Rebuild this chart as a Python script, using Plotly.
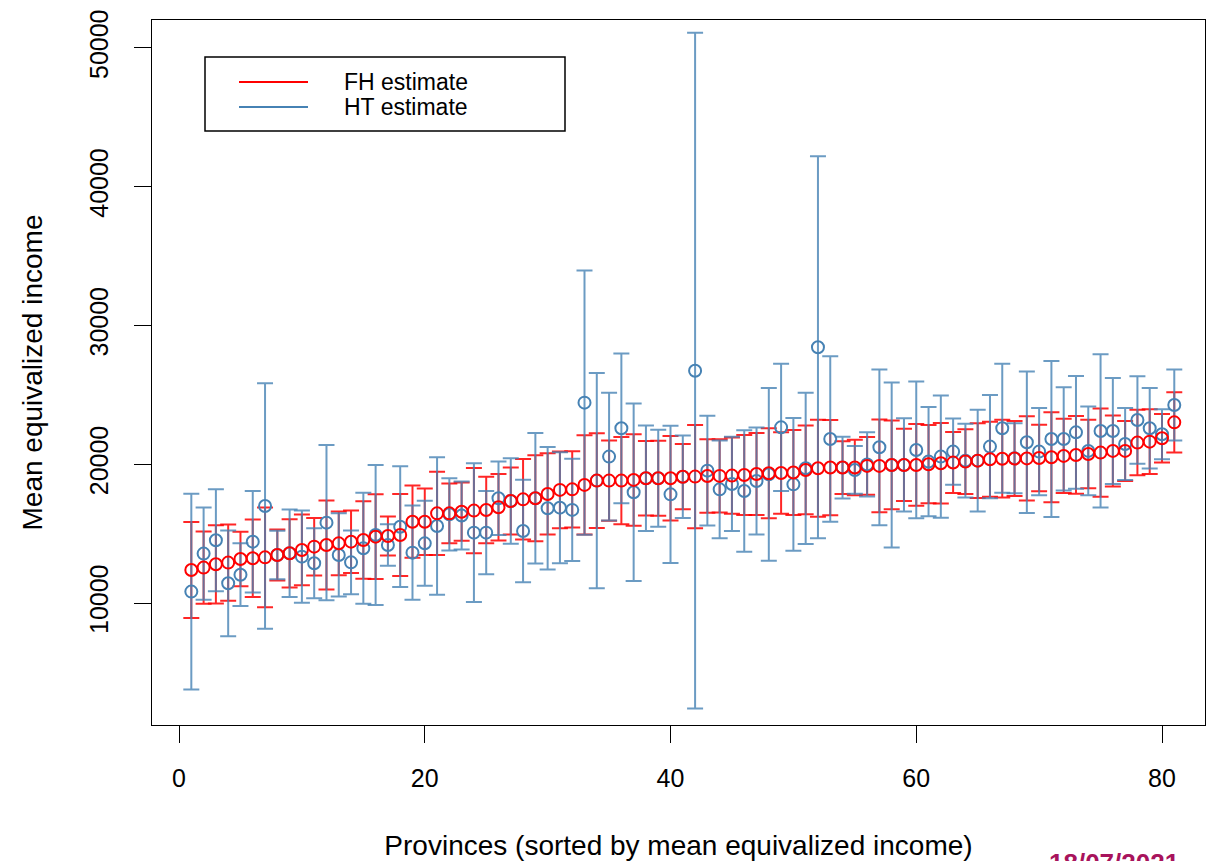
import plotly.graph_objects as go

# ---- data ----
province = list(range(1, 82))

fh_est = [12380, 12550, 12790, 12910, 13170, 13220, 13290, 13460, 13580, 13820,
          14060, 14180, 14300, 14420, 14540, 14780, 14830, 14900, 15860, 15860,
          16460, 16460, 16580, 16660, 16700, 16900, 17350, 17470, 17550, 17860,
          18150, 18190, 18510, 18820, 18820, 18820, 18870, 18990, 18990, 18990,
          19100, 19110, 19150, 19160, 19180, 19230, 19300, 19350, 19370, 19400,
          19590, 19710, 19760, 19760, 19760, 19880, 19880, 19950, 19950, 19950,
          20000, 20070, 20120, 20190, 20260, 20360, 20400, 20410, 20420, 20450,
          20500, 20600, 20670, 20740, 20840, 20960, 20960, 21560, 21630, 21870,
          23020]
fh_moe = [3460, 2600, 2820, 2750, 1970, 2790, 3600, 1830, 2460, 2550,
          2070, 3200, 2300, 2250, 2800, 3050, 1400, 2950, 2600, 2400,
          3000, 2160, 2100, 3070, 2400, 2400, 2420, 2900, 3100, 2930,
          2760, 2750, 3580, 3420, 2900, 3150, 3300, 2680, 2700, 3050,
          2350, 3720, 2650, 2640, 2740, 2880, 2950, 3240, 2940, 3060,
          3200, 3500, 3430, 1900, 2000, 2080, 3340, 3200, 2600, 2950,
          2820, 2900, 2200, 2340, 2700, 2700, 2800, 2700, 3030, 2400,
          3240, 2670, 2800, 2470, 3180, 2560, 2160, 2360, 2340, 1750,
          2170]
ht_est = [10820, 13560, 14520, 11420, 12040, 14420, 16990, 13460, 13580, 13340,
          12860, 15790, 13460, 12930, 13940, 14900, 14180, 15500, 13630, 14300,
          15550, 16390, 16300, 15070, 15070, 17550, 17350, 15190, 17550, 16830,
          16870, 16710, 24440, 18820, 20550, 22590, 17980, 18990, 18990, 17830,
          19100, 26740, 19540, 18190, 18580, 18070, 18790, 19270, 22660, 18550,
          19710, 28430, 21820, 19760, 19590, 19990, 21220, 19950, 19950, 21030,
          20190, 20550, 20910, 20260, 20260, 21270, 22590, 20430, 21580, 20910,
          21820, 21820, 22300, 20960, 22400, 22400, 21460, 23190, 22590, 22160,
          24270]
ht_moe = [7050, 3330, 3680, 3810, 2260, 3660, 8840, 1750, 3150, 3330,
          2520, 5600, 3000, 2300, 4000, 5050, 1500, 4350, 3400, 3060,
          4950, 2600, 2450, 5000, 3000, 2650, 3080, 3690, 4700, 4420,
          4000, 3680, 9520, 7750, 4600, 5400, 6400, 3800, 3500, 4950,
          2980, 24350, 3960, 3520, 3400, 4380, 3860, 6220, 4590, 4780,
          5450, 13760, 5970, 2220, 1720, 2320, 5610, 5950, 3360, 4930,
          3930, 4400, 2380, 2650, 3660, 3720, 4650, 2520, 5100, 3150,
          5620, 3720, 4060, 3200, 5520, 3820, 2600, 3150, 2900, 1800,
          2560]

x_ticks = [0, 20, 40, 60, 80]
y_ticks = [10000, 20000, 30000, 40000, 50000]
series_names = ["FH estimate", "HT estimate"]

RED = "rgb(255,0,0)"
RED_BAR = "rgba(255,0,0,0.85)"
BLUE = "rgb(70,130,180)"
BLUE_BAR = "rgba(70,130,180,0.8)"
FONT = "Liberation Sans, Arial, Helvetica, sans-serif"

fig = go.Figure()

# FH error bars (drawn first, underneath)
fig.add_trace(go.Scatter(
    x=province, y=fh_est, mode="markers",
    marker=dict(size=2, opacity=0),
    error_y=dict(type="data", array=fh_moe, symmetric=True,
                 color=RED_BAR, thickness=2, width=8),
    showlegend=False, hoverinfo="skip"))

# HT error bars + points
fig.add_trace(go.Scatter(
    x=province, y=ht_est, mode="markers", name=series_names[1],
    marker=dict(symbol="circle-open", size=12, color=BLUE,
                line=dict(width=2, color=BLUE)),
    error_y=dict(type="data", array=ht_moe, symmetric=True,
                 color=BLUE_BAR, thickness=2, width=8),
    showlegend=False))

# FH points on top
fig.add_trace(go.Scatter(
    x=province, y=fh_est, mode="markers", name=series_names[0],
    marker=dict(symbol="circle-open", size=12, color=RED,
                line=dict(width=2, color=RED)),
    showlegend=False))

# ---- manual legend box (R style) ----
# page has an 8px body margin: plot area spans page px 152..1205 x 20..725
def px_x(p):
    return (p - 152) / (1205 - 152)

def px_y(p):
    return (725 - p) / (725 - 20)

fig.add_shape(type="rect", xref="paper", yref="paper",
              x0=px_x(205), x1=px_x(565), y0=px_y(131), y1=px_y(57),
              line=dict(color="black", width=1.5), fillcolor="white")
fig.add_shape(type="line", xref="paper", yref="paper",
              x0=px_x(239), x1=px_x(308), y0=px_y(82), y1=px_y(82),
              line=dict(color=RED, width=2))
fig.add_shape(type="line", xref="paper", yref="paper",
              x0=px_x(239), x1=px_x(308), y0=px_y(107), y1=px_y(107),
              line=dict(color=BLUE, width=2))
for label, yy in zip(series_names, [82, 107]):
    fig.add_annotation(xref="paper", yref="paper", x=px_x(342), y=px_y(yy),
                       xanchor="left", yanchor="middle", text=label,
                       showarrow=False, font=dict(size=23, family=FONT, color="black"))

# date stamp, partly cut at the bottom edge like in the reference
fig.add_annotation(xref="paper", yref="paper", x=px_x(1047), y=px_y(846),
                   xanchor="left", yanchor="top", text="<b>18/07/2021</b>",
                   showarrow=False, font=dict(size=26, family=FONT, color="#A8135C"))

axis_common = dict(showgrid=False, zeroline=False, showline=True, mirror=True,
                   linecolor="black", linewidth=1, ticks="outside", ticklen=17,
                   tickwidth=1, tickcolor="black", tickformat="d", automargin=False,
                   tickfont=dict(size=25, family=FONT, color="black"))

fig.update_layout(
    width=1215, height=853, autosize=False,
    margin=dict(l=144, r=18, t=12, b=136),
    paper_bgcolor="white", plot_bgcolor="white",
    xaxis=dict(range=[-2.2, 83.5], tickvals=x_ticks, ticklabelstandoff=14,
               title=dict(text="Provinces (sorted by mean equivalized income)",
                          font=dict(size=28, family=FONT, color="black"), standoff=44),
               **axis_common),
    yaxis=dict(range=[1207, 52017], tickvals=y_ticks, tickangle=-90,
               ticklabelstandoff=16,
               title=dict(text="Mean equivalized income",
                          font=dict(size=28, family=FONT, color="black"), standoff=34),
               **axis_common),
)

fig.write_html("out.html")
